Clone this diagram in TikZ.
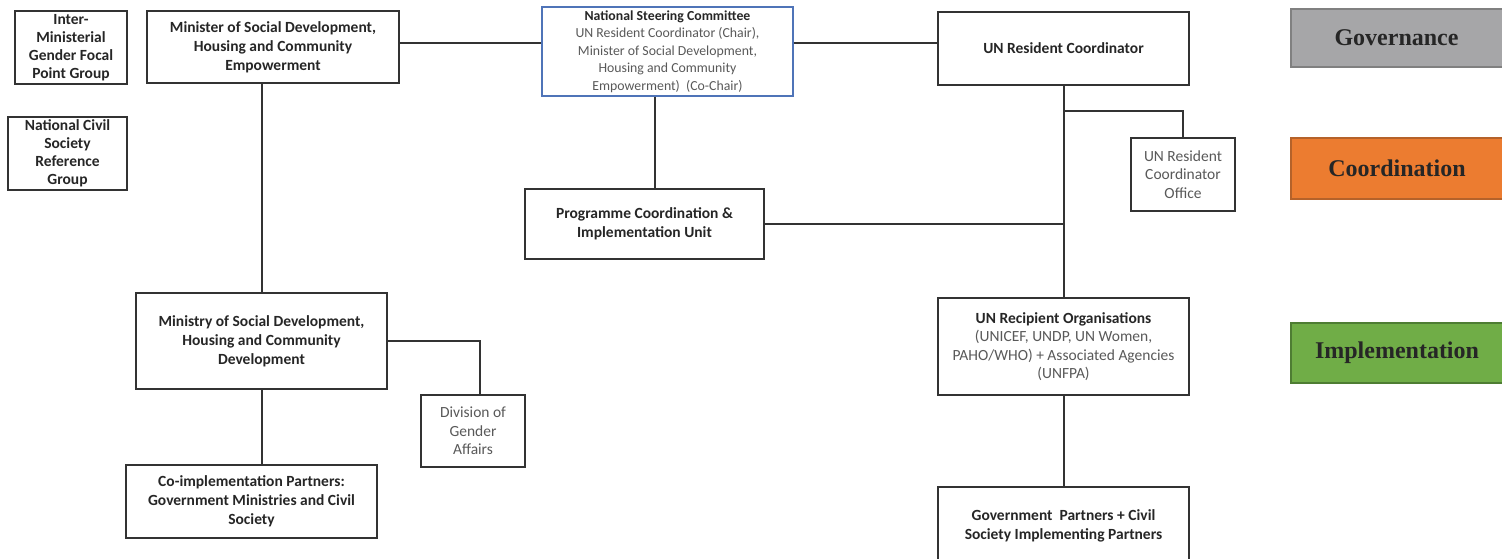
\documentclass[tikz,border=0pt]{standalone}
\usepackage{fontspec}
\setmainfont{Carlito}
\newfontfamily\tnr{Liberation Serif}
\definecolor{boxline}{HTML}{333333}
\definecolor{txtdark}{HTML}{262626}
\definecolor{txtgrey}{HTML}{595959}
\definecolor{nscblue}{HTML}{4F74B8}
\definecolor{govfill}{HTML}{A6A6A8}
\definecolor{govline}{HTML}{808080}
\definecolor{coordfill}{HTML}{EC7C30}
\definecolor{coordline}{HTML}{B5622A}
\definecolor{implfill}{HTML}{70AD47}
\definecolor{implline}{HTML}{4E7D33}
\begin{document}
\begin{tikzpicture}[x=1pt,y=-1pt,
  box/.style={draw=boxline, line width=2pt, fill=white, align=center, inner sep=1pt,
    font=\fontsize{15.5}{19}\selectfont\bfseries, text=txtdark},
  greybox/.style={box, font=\fontsize{15.5}{18.5}\selectfont, text=txtgrey},
  nscbox/.style={draw=nscblue, line width=1.2pt, fill=white, align=center, inner sep=1pt,
    font=\fontsize{13.8}{17.5}\selectfont, text=txtgrey},
  stage/.style={line width=2pt, font=\tnr\fontsize{24}{26}\selectfont\bfseries, text=txtdark,
    minimum width=212pt},
  conn/.style={draw=boxline, line width=2pt},
]
\clip (0,0) rectangle (1502,558);
\fill[white] (0,0) rectangle (1502,558);

% left small boxes
\node[box, minimum width=112pt, minimum height=73pt, font=\fontsize{15.5}{18}\selectfont\bfseries] (img) at (71,47.5)
  {Inter-\\Ministerial\\Gender Focal\\Point Group};
\node[box, minimum width=119pt, minimum height=73pt, font=\fontsize{15.5}{18}\selectfont\bfseries] (ncs) at (67.5,153.5)
  {National Civil\\Society\\Reference\\Group};

% governance row
\node[box, minimum width=252pt, minimum height=72pt] (min) at (273,47)
  {Minister of Social Development,\\Housing and Community\\Empowerment};
\node[nscbox, minimum width=251pt, minimum height=89pt] (nsc) at (667.5,51.5)
  {\textcolor{txtdark}{\bfseries National Steering Committee}\\UN Resident Coordinator (Chair),\\Minister of Social Development,\\Housing and Community\\Empowerment)\ \ (Co-Chair)};
\node[box, minimum width=251pt, minimum height=73pt] (unrc) at (1063.5,48.5)
  {UN Resident Coordinator};

% coordination row
\node[greybox, minimum width=104pt, minimum height=73pt] (unrco) at (1183,174.5)
  {UN Resident\\Coordinator\\Office};
\node[box, minimum width=239pt, minimum height=70pt] (pciu) at (644.5,224)
  {Programme Coordination \&\\Implementation Unit};

% implementation row
\node[box, minimum width=251pt, minimum height=96pt] (ministry) at (261.5,341)
  {Ministry of Social Development,\\Housing and Community\\Development};
\node[greybox, minimum width=104pt, minimum height=72pt] (dga) at (473,431)
  {Division of\\Gender\\Affairs};
\node[box, minimum width=251pt, minimum height=73pt] (coimpl) at (251.5,501.5)
  {Co-implementation Partners:\\Government Ministries and Civil\\Society};
\node[box, minimum width=251pt, minimum height=97pt, font=\fontsize{15.5}{18.5}\selectfont, text=txtgrey] (unro) at (1063.5,346.5)
  {\textcolor{txtdark}{\bfseries UN Recipient Organisations}\\(UNICEF, UNDP, UN Women,\\PAHO/WHO) + Associated Agencies\\(UNFPA)};
\node[box, minimum width=251pt, minimum height=78pt] (gp) at (1063.5,526)
  {Government\ \ Partners + Civil\\Society Implementing Partners};

% stage labels
\node[stage, draw=govline, fill=govfill, minimum height=58pt] (gov) at (1396.5,38) {Governance};
\node[stage, draw=coordline, fill=coordfill, minimum height=61pt] (coord) at (1397,168.5) {Coordination};
\node[stage, draw=implline, fill=implfill, minimum height=60pt] (impl) at (1397,353) {Implementation};

% connectors
\coordinate (j1) at (1063,111);
\coordinate (j2) at (1063,224);
\draw[conn] ([yshift=4pt]min.east) -- ([yshift=4pt]min.east -| nsc.west);
\draw[conn] ([yshift=8.5pt]nsc.east) -- ([yshift=8.5pt]nsc.east -| unrc.west);
\draw[conn] ([xshift=-11pt]min.south) -- ([xshift=-11pt]min.south |- ministry.north);
\draw[conn] ([xshift=-12.5pt]nsc.south) -- ([xshift=-12.5pt]nsc.south |- pciu.north);
\draw[conn] (unrc.south) -- (unro.north);
\draw[conn] (j1) -| (unrco.north);
\draw[conn] (pciu.east) -- (j2);
\draw[conn] (ministry.east) -| ([xshift=7pt]dga.north);
\draw[conn] (ministry.south) -- (ministry.south |- coimpl.north);
\draw[conn] (unro.south) -- (gp.north);
\end{tikzpicture}
\end{document}
